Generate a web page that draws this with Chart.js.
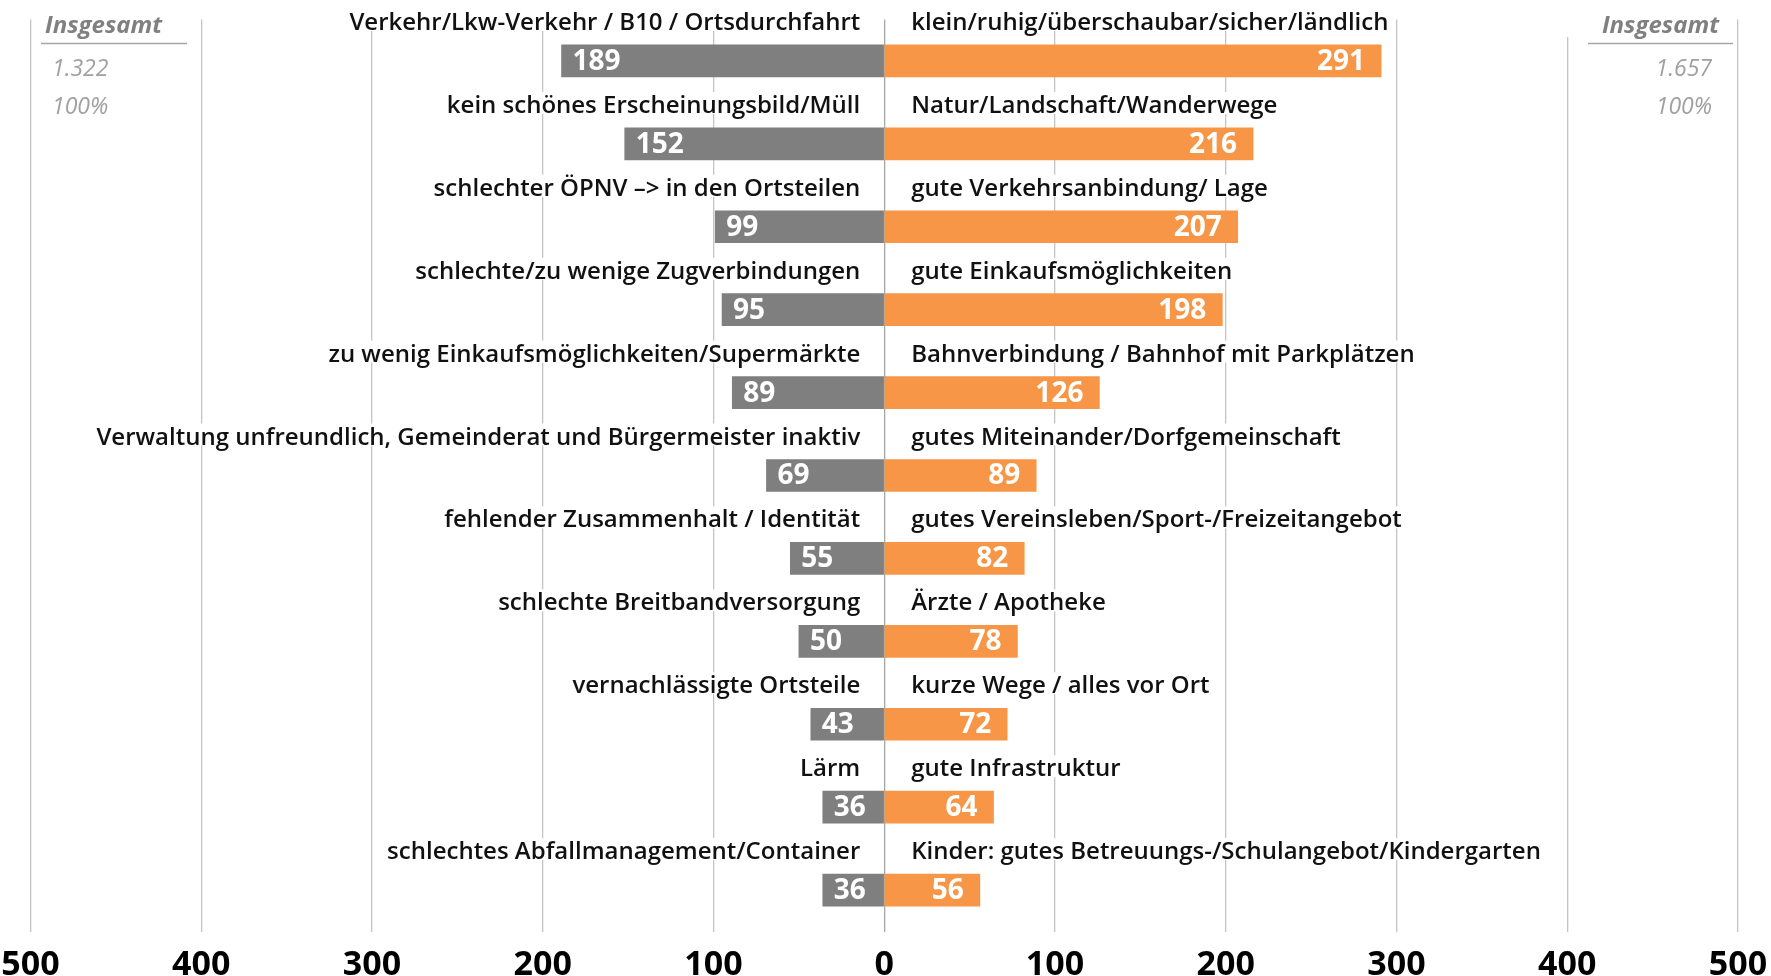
<!DOCTYPE html>
<html>
<head>
<meta charset="utf-8">
<script src="https://cdn.jsdelivr.net/npm/chart.js@4.4.0/dist/chart.umd.min.js"></script>
<style>
    body { margin: 0; background: #fff; }
    #wrap { width: 1771px; height: 976px; }
</style>
</head>
<body>
<div id="wrap"><canvas id="chart" width="1771" height="976"></canvas></div>
<script>
// Negative answers (left, gray)
const negLabels = [
    "Verkehr/Lkw-Verkehr / B10 / Ortsdurchfahrt",
    "kein schönes Erscheinungsbild/Müll",
    "schlechter ÖPNV –> in den Ortsteilen",
    "schlechte/zu wenige Zugverbindungen",
    "zu wenig Einkaufsmöglichkeiten/Supermärkte",
    "Verwaltung unfreundlich, Gemeinderat und Bürgermeister inaktiv",
    "fehlender Zusammenhalt / Identität",
    "schlechte Breitbandversorgung",
    "vernachlässigte Ortsteile",
    "Lärm",
    "schlechtes Abfallmanagement/Container"
];
const negValues = [189, 152, 99, 95, 89, 69, 55, 50, 43, 36, 36];

// Positive answers (right, orange)
const posLabels = [
    "klein/ruhig/überschaubar/sicher/ländlich",
    "Natur/Landschaft/Wanderwege",
    "gute Verkehrsanbindung/ Lage",
    "gute Einkaufsmöglichkeiten",
    "Bahnverbindung / Bahnhof mit Parkplätzen",
    "gutes Miteinander/Dorfgemeinschaft",
    "gutes Vereinsleben/Sport-/Freizeitangebot",
    "Ärzte / Apotheke",
    "kurze Wege / alles vor Ort",
    "gute Infrastruktur",
    "Kinder: gutes Betreuungs-/Schulangebot/Kindergarten"
];
const posValues = [291, 216, 207, 198, 126, 89, 82, 78, 72, 64, 56];

// Totals shown in the corners
const totalTitle = "Insgesamt";
const totals = ["1.322", "1.657"];
const totalPercent = "100%";

const xTicks = [-500, -400, -300, -200, -100, 0, 100, 200, 300, 400, 500];

const GRAY = "#7f7f7f";
const ORANGE = "#f79646";

// Category labels above each bar, with white box that hides the grid
const categoryLabels = {
    id: "categoryLabels",
    beforeDatasetsDraw(chart) {
        const ctx = chart.ctx;
        const x0 = chart.scales.x.getPixelForValue(0);
        const yScale = chart.scales.y;
        ctx.save();
        ctx.font = '600 24px "Open Sans"';
        ctx.textBaseline = "alphabetic";
        for (let i = 0; i < negLabels.length; i++) {
            const y = yScale.getPixelForValue(i) - 31;
            // left side
            let w = ctx.measureText(negLabels[i]).width;
            ctx.fillStyle = "#fff";
            ctx.fillRect(x0 - 24 - w - 4, y - 21, w + 8, 22);
            ctx.fillStyle = "#111";
            ctx.textAlign = "right";
            ctx.fillText(negLabels[i], x0 - 24, y);
            // right side
            w = ctx.measureText(posLabels[i]).width;
            ctx.fillStyle = "#fff";
            ctx.fillRect(x0 + 27 - 4, y - 21, w + 8, 22);
            ctx.fillStyle = "#111";
            ctx.textAlign = "left";
            ctx.fillText(posLabels[i], x0 + 27, y);
        }
        ctx.restore();
    }
};

// Values written inside the bars
const barValues = {
    id: "barValues",
    afterDatasetsDraw(chart) {
        const ctx = chart.ctx;
        ctx.save();
        ctx.font = 'bold 28px "Open Sans"';
        ctx.fillStyle = "#fff";
        ctx.textBaseline = "middle";
        chart.data.datasets.forEach((ds, di) => {
            chart.getDatasetMeta(di).data.forEach((bar, i) => {
                const v = Math.abs(ds.data[i]);
                if (di === 0) {
                    ctx.textAlign = "left";
                    ctx.fillText(v, bar.x + 11, bar.y + 1);
                } else {
                    ctx.textAlign = "right";
                    ctx.fillText(v, bar.x - 16, bar.y + 1);
                }
            });
        });
        ctx.restore();
    }
};

// "Insgesamt" boxes in the top corners
const totalBoxes = {
    id: "totalBoxes",
    afterDraw(chart) {
        const ctx = chart.ctx;
        ctx.save();
        ctx.textBaseline = "middle";

        // left
        ctx.font = 'italic bold 24px "Open Sans"';
        ctx.fillStyle = "#808080";
        ctx.textAlign = "left";
        ctx.fillText(totalTitle, 45, 26);
        ctx.strokeStyle = "#a6a6a6";
        ctx.lineWidth = 1.5;
        ctx.beginPath();
        ctx.moveTo(41, 43.5);
        ctx.lineTo(187, 43.5);
        ctx.stroke();
        ctx.font = 'italic 23px "Open Sans"';
        ctx.fillStyle = "#a0a0a0";
        ctx.fillText(totals[0], 52, 69);
        ctx.fillText(totalPercent, 52, 107);

        // right
        ctx.fillStyle = "#fff";
        ctx.fillRect(1560, 19, 170, 18);
        ctx.font = 'italic bold 24px "Open Sans"';
        ctx.fillStyle = "#808080";
        ctx.textAlign = "right";
        ctx.fillText(totalTitle, 1719, 26);
        ctx.beginPath();
        ctx.moveTo(1588, 43.5);
        ctx.lineTo(1733, 43.5);
        ctx.stroke();
        ctx.font = 'italic 23px "Open Sans"';
        ctx.fillStyle = "#a0a0a0";
        ctx.fillText(totals[1], 1712, 69);
        ctx.fillText(totalPercent, 1712, 107);
        ctx.restore();
    }
};

const ctx = document.getElementById("chart").getContext("2d");
new Chart(ctx, {
    type: "bar",
    data: {
        labels: negLabels.map((l, i) => i),
        datasets: [
            {
                label: "negativ",
                data: negValues.map(v => -v),
                backgroundColor: GRAY,
                barThickness: 32,
                stack: "s"
            },
            {
                label: "positiv",
                data: posValues,
                backgroundColor: ORANGE,
                barThickness: 32,
                stack: "s"
            }
        ]
    },
    options: {
        indexAxis: "y",
        responsive: false,
        animation: false,
        layout: { padding: { left: 30.5, right: 33, top: 19.5, bottom: 0 } },
        plugins: {
            legend: { display: false },
            tooltip: { enabled: false }
        },
        scales: {
            x: {
                stacked: true,
                min: -500,
                max: 500,
                afterBuildTicks(scale) {
                    scale.ticks = xTicks.map(v => ({ value: v }));
                },
                afterFit(scale) {
                    scale.paddingLeft = 0;
                    scale.paddingRight = 0;
                    scale.height = 44.5;
                },
                grid: {
                    color: (c) => (c.tick && c.tick.value === 0 ? "#a6a6a6" : "#c4c4c4"),
                    lineWidth: 1.3,
                    drawTicks: false
                },
                border: { display: false },
                ticks: {
                    padding: 13,
                    maxRotation: 0,
                    autoSkip: false,
                    color: "#000",
                    font: { family: "Open Sans", size: 34, weight: "bold" },
                    callback: (v) => Math.abs(v)
                }
            },
            y: {
                stacked: true,
                display: false
            }
        }
    },
    plugins: [categoryLabels, barValues, totalBoxes]
});
</script>
</body>
</html>
